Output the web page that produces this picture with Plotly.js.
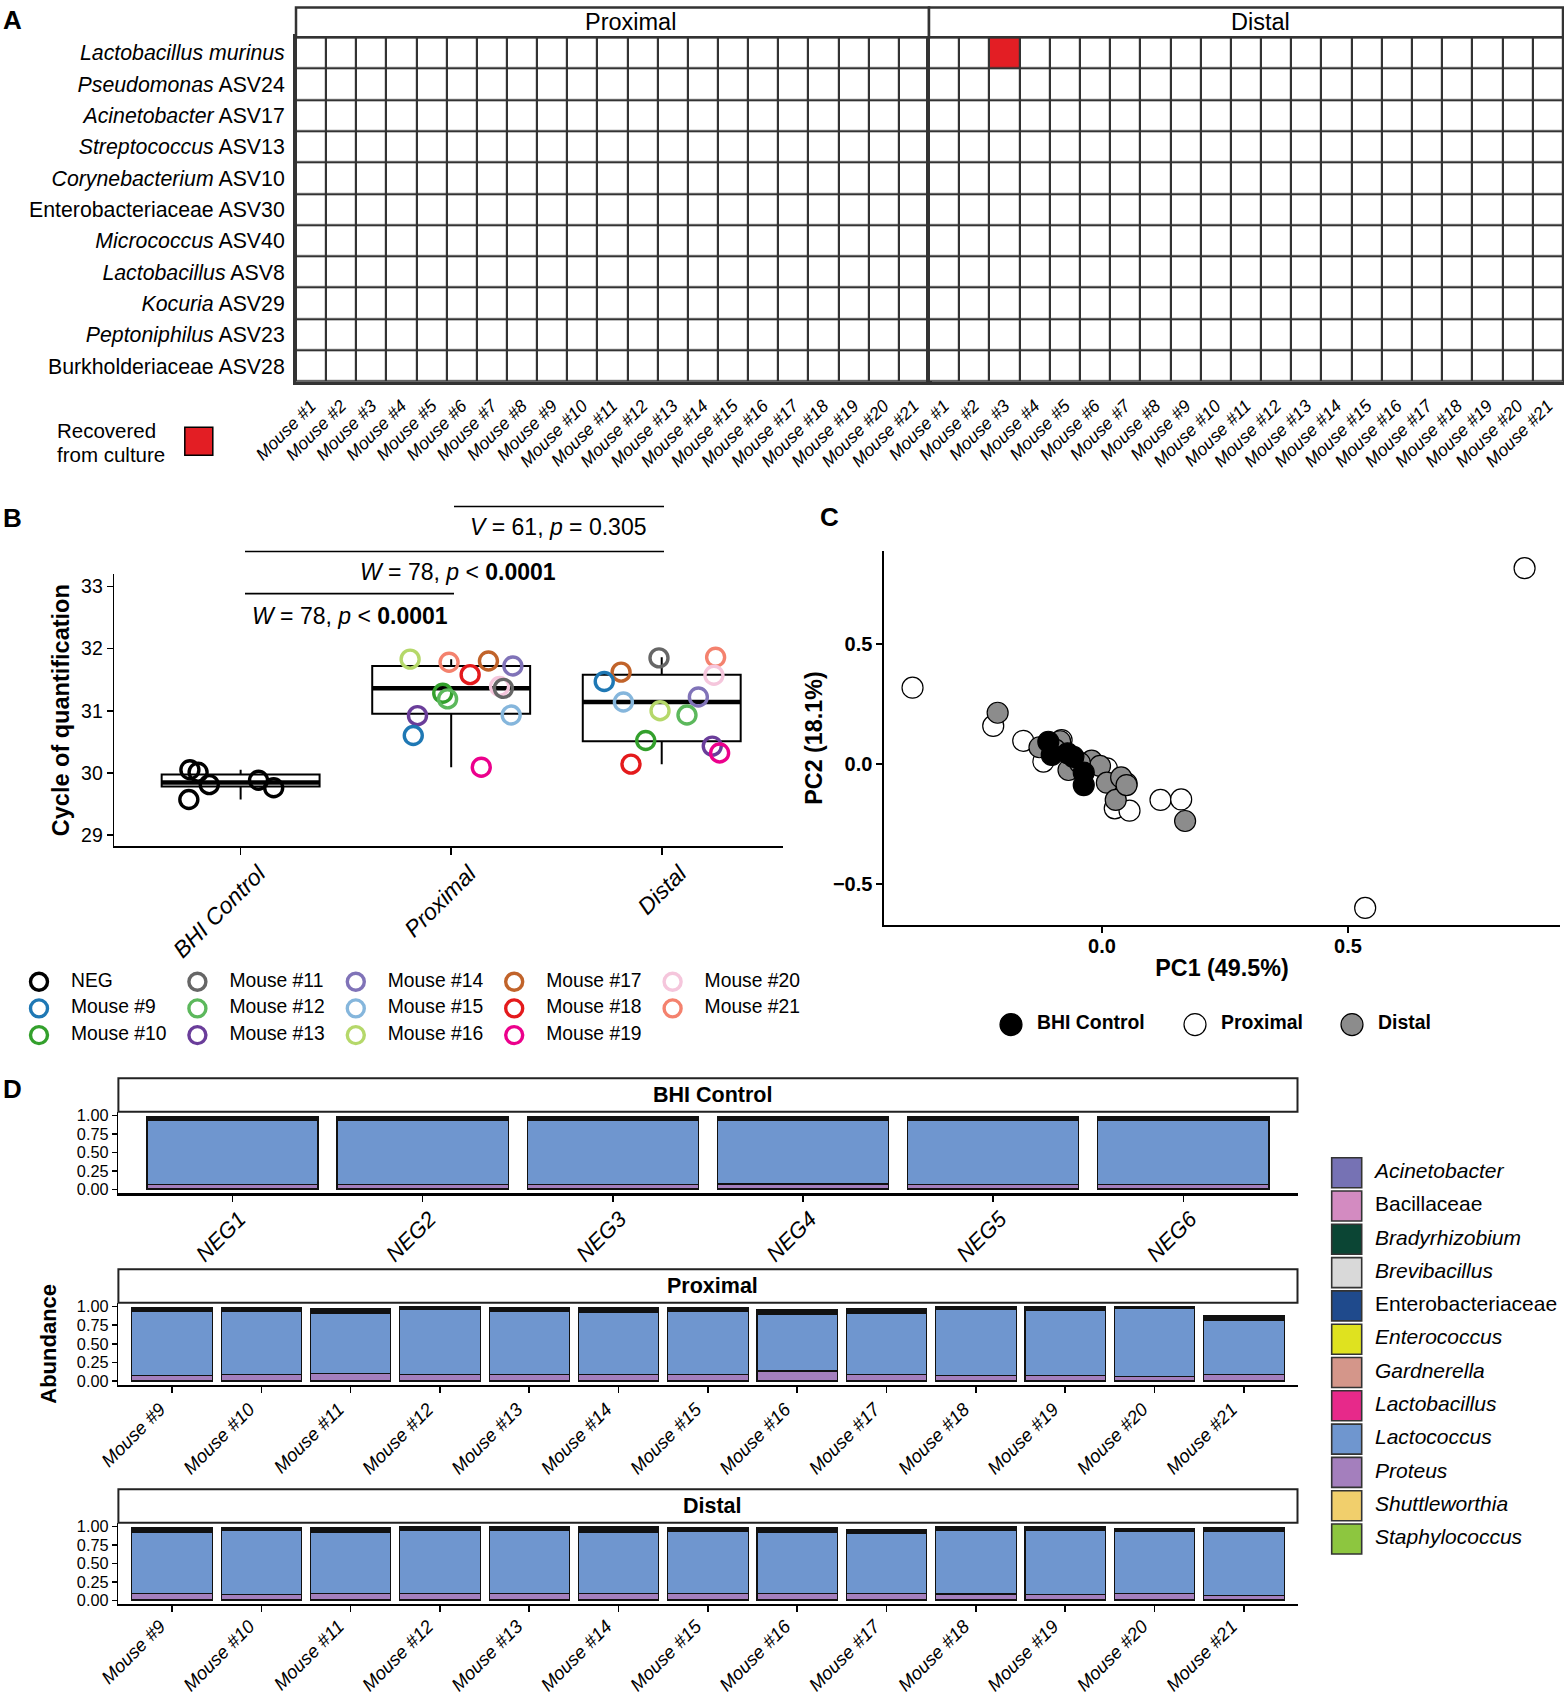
<!DOCTYPE html>
<html><head><meta charset="utf-8">
<script src="https://cdn.plot.ly/plotly-3.0.1.min.js"></script>
<style>html,body{margin:0;padding:0;background:#fff}#chart{width:1564px;height:1700px}</style>
</head><body><div id="chart"></div>
<script>
const W = 1564, H = 1700;
const FONT = 'Liberation Sans, Arial, Helvetica, sans-serif';

// ---------------- Panel A data ----------------
const taxaA = ['Lactobacillus murinus','Pseudomonas ASV24','Acinetobacter ASV17','Streptococcus ASV13','Corynebacterium ASV10','Enterobacteriaceae ASV30','Micrococcus ASV40','Lactobacillus ASV8','Kocuria ASV29','Peptoniphilus ASV23','Burkholderiaceae ASV28'];
const taxaALabels = ['<i>Lactobacillus murinus</i>','<i>Pseudomonas</i> ASV24','<i>Acinetobacter</i> ASV17','<i>Streptococcus</i> ASV13','<i>Corynebacterium</i> ASV10','Enterobacteriaceae ASV30','<i>Micrococcus</i> ASV40','<i>Lactobacillus</i> ASV8','<i>Kocuria</i> ASV29','<i>Peptoniphilus</i> ASV23','Burkholderiaceae ASV28'];
const miceA = ['Mouse #1','Mouse #2','Mouse #3','Mouse #4','Mouse #5','Mouse #6','Mouse #7','Mouse #8','Mouse #9','Mouse #10','Mouse #11','Mouse #12','Mouse #13','Mouse #14','Mouse #15','Mouse #16','Mouse #17','Mouse #18','Mouse #19','Mouse #20','Mouse #21'];
const sitesA = ['Proximal','Distal'];
const recoveredSite = ['Distal'];
const recoveredTaxon = ['Lactobacillus murinus'];
const recoveredMouse = ['Mouse #3'];

// ---------------- Panel B data ----------------
const groupsB = ['BHI Control','Proximal','Distal'];
const bhiCq  = [30.05, 30.01, 29.81, 29.57, 29.88, 29.76];
const bhiJit = [-0.241, -0.202, -0.149, -0.246, 0.085, 0.157];
const proxMiceB = ['Mouse #16','Mouse #21','Mouse #17','Mouse #14','Mouse #18','Mouse #20','Mouse #11','Mouse #10','Mouse #12','Mouse #13','Mouse #15','Mouse #9','Mouse #19'];
const proxCq  = [31.83, 31.78, 31.80, 31.72, 31.58, 31.39, 31.36, 31.28, 31.19, 30.92, 30.93, 30.60, 30.09];
const proxJit = [-0.195, -0.010, 0.177, 0.293, 0.090, 0.230, 0.248, -0.040, -0.017, -0.160, 0.285, -0.180, 0.143];
const distMiceB = ['Mouse #11','Mouse #21','Mouse #20','Mouse #17','Mouse #9','Mouse #15','Mouse #14','Mouse #16','Mouse #12','Mouse #10','Mouse #13','Mouse #19','Mouse #18'];
const distCq  = [31.85, 31.86, 31.57, 31.62, 31.47, 31.14, 31.22, 31.00, 30.93, 30.52, 30.43, 30.32, 30.14];
const distJit = [-0.013, 0.256, 0.248, -0.193, -0.273, -0.182, 0.174, -0.008, 0.120, -0.076, 0.240, 0.275, -0.146];
const boxQ1  = [29.78, 30.95, 30.51];
const boxMed = [29.845, 31.36, 31.14];
const boxQ3  = [29.975, 31.72, 31.58];
const boxLo  = [29.57, 30.09, 30.14];
const boxHi  = [30.05, 31.83, 31.86];
const legendBLabels = ['NEG','Mouse #9','Mouse #10','Mouse #11','Mouse #12','Mouse #13','Mouse #14','Mouse #15','Mouse #16','Mouse #17','Mouse #18','Mouse #19','Mouse #20','Mouse #21'];
const legendBColors = ['#000000','#1f78b4','#33a02c','#666666','#5cb85c','#6a3d9a','#8073b8','#85b6dc','#b5d86a','#c1632a','#e41a1c','#ec008c','#f5c6dc','#f4826e'];
const statLabels = ['<i>V</i> = 61, <i>p</i> = 0.305','<i>W</i> = 78, <i>p</i> &lt; <b>0.0001</b>','<i>W</i> = 78, <i>p</i> &lt; <b>0.0001</b>'];

// ---------------- Panel C data ----------------
const groupsC = ['BHI Control','Proximal','Distal'];
const colorsC = ['#000000','#ffffff','#8c8c8c'];
const bhiPC1 = [-0.109, -0.102, -0.070, -0.058, -0.037, -0.037];
const bhiPC2 = [0.093, 0.038, 0.045, 0.030, -0.036, -0.088];
const proxPC1 = [0.859, -0.385, 0.535, -0.221, -0.160, -0.119, 0.010, 0.050, 0.026, 0.056, 0.119, 0.161, -0.082];
const proxPC2 = [0.818, 0.319, -0.601, 0.159, 0.097, 0.010, -0.018, -0.081, -0.185, -0.195, -0.150, -0.148, 0.100];
const distPC1 = [-0.212, -0.127, -0.021, -0.004, -0.068, 0.010, 0.039, 0.028, 0.169, -0.085, -0.045, 0.050, -0.095];
const distPC2 = [0.214, 0.070, 0.014, -0.008, -0.025, -0.078, -0.056, -0.150, -0.238, 0.095, 0.005, -0.088, 0.060];

// ---------------- Panel D data ----------------
const taxaD = ['Acinetobacter','Bacillaceae','Bradyrhizobium','Brevibacillus','Enterobacteriaceae','Enterococcus','Gardnerella','Lactobacillus','Lactococcus','Proteus','Shuttleworthia','Staphylococcus'];
const taxaDLabels = ['<i>Acinetobacter</i>','Bacillaceae','<i>Bradyrhizobium</i>','<i>Brevibacillus</i>','Enterobacteriaceae','<i>Enterococcus</i>','<i>Gardnerella</i>','<i>Lactobacillus</i>','<i>Lactococcus</i>','<i>Proteus</i>','<i>Shuttleworthia</i>','<i>Staphylococcus</i>'];
const colorsD = ['#7672b4','#d38bc1','#0b4534','#d9d9d9','#1f4a8c','#dfe21f','#d4968a','#e7298a','#6f96cf','#a47fbd','#f1cf6c','#8dc63f'];
const facetsD = ['BHI Control','Proximal','Distal'];
const samplesBHI = ['NEG1','NEG2','NEG3','NEG4','NEG5','NEG6'];
const samplesMice = ['Mouse #9','Mouse #10','Mouse #11','Mouse #12','Mouse #13','Mouse #14','Mouse #15','Mouse #16','Mouse #17','Mouse #18','Mouse #19','Mouse #20','Mouse #21'];
// rows follow taxaD order, columns follow samples
const abundBHI = [
  [.008,.007,.008,.008,.008,.007],
  [.006,.006,.006,.006,.006,.006],
  [.007,.007,.007,.007,.007,.007],
  [.006,.006,.006,.006,.006,.006],
  [.008,.008,.007,.008,.008,.008],
  [.007,.007,.007,.007,.007,.007],
  [.006,.006,.006,.006,.006,.006],
  [.007,.007,.008,.007,.008,.008],
  [.858,.860,.859,.856,.862,.858],
  [.062,.061,.062,.063,.061,.062],
  [.005,.005,.005,.005,.005,.005],
  [.006,.006,.006,.006,.006,.006]
];
const abundProx = [
  [.008,.008,.009,.005,.007,.009,.008,.009,.009,.006,.007,.004,.009],
  [.006,.006,.007,.004,.006,.008,.006,.008,.007,.005,.006,.003,.008],
  [.007,.007,.008,.005,.007,.008,.007,.008,.008,.006,.007,.004,.008],
  [.006,.006,.007,.004,.006,.008,.006,.008,.007,.005,.006,.003,.008],
  [.009,.009,.009,.006,.008,.010,.009,.010,.009,.006,.008,.005,.010],
  [.007,.007,.008,.005,.007,.008,.007,.008,.008,.006,.007,.004,.008],
  [.006,.006,.006,.005,.006,.007,.006,.007,.006,.005,.006,.003,.007],
  [.009,.009,.009,.006,.007,.010,.009,.010,.009,.006,.007,.004,.010],
  [.851,.837,.806,.860,.842,.823,.837,.751,.815,.878,.865,.911,.720],
  [.070,.084,.093,.084,.079,.084,.084,.125,.079,.066,.070,.048,.079],
  [.005,.005,.005,.005,.005,.005,.005,.005,.005,.005,.005,.005,.005],
  [.006,.006,.006,.006,.006,.006,.006,.006,.006,.006,.006,.006,.006]
];
const abundDist = [
  [.009,.007,.008,.007,.007,.010,.008,.008,.008,.007,.007,.006,.008],
  [.007,.006,.006,.006,.006,.008,.007,.007,.007,.006,.006,.005,.007],
  [.008,.006,.007,.007,.006,.009,.007,.008,.007,.007,.007,.006,.007],
  [.007,.005,.007,.006,.005,.008,.007,.007,.007,.006,.006,.005,.007],
  [.009,.007,.009,.008,.007,.010,.009,.009,.009,.008,.008,.007,.009],
  [.008,.006,.007,.007,.006,.009,.007,.008,.007,.007,.007,.006,.007],
  [.006,.006,.006,.006,.006,.008,.006,.006,.006,.006,.006,.005,.006],
  [.009,.007,.009,.008,.007,.010,.009,.009,.009,.008,.008,.006,.009],
  [.832,.863,.827,.854,.859,.832,.839,.827,.809,.859,.868,.836,.866],
  [.080,.066,.080,.080,.080,.080,.080,.075,.080,.075,.066,.080,.053],
  [.005,.005,.005,.005,.005,.005,.005,.008,.005,.005,.005,.005,.005],
  [.006,.006,.006,.006,.006,.006,.006,.008,.006,.006,.006,.006,.006]
];

// ---------------- helpers ----------------
const px = v => v / W;
const py = v => 1 - v / H;
const traces = [];
const shapes = [];
const annotations = [];
function ann(x, y, text, size, opts) {
  annotations.push(Object.assign({xref:'paper', yref:'paper', x:px(x), y:py(y), text:text, showarrow:false,
    xanchor:'center', yanchor:'middle', font:{family:FONT, size:size, color:'#000'}}, opts || {}));
}
function rect(x0, y0, x1, y1, opts) {
  shapes.push(Object.assign({type:'rect', xref:'paper', yref:'paper', x0:px(x0), x1:px(x1), y0:py(y0), y1:py(y1),
    line:{color:'#333', width:2.5}, fillcolor:'#fff', layer:'above'}, opts || {}));
}
function hline(x0, x1, y, opts) {
  shapes.push(Object.assign({type:'line', xref:'paper', yref:'paper', x0:px(x0), x1:px(x1), y0:py(y), y1:py(y),
    line:{color:'#000', width:1.6}}, opts || {}));
}

// ---------------- Panel A ----------------
sitesA.forEach((site, si) => {
  const z = taxaA.map(t => miceA.map(m => {
    for (let k = 0; k < recoveredSite.length; k++) {
      if (recoveredSite[k] === site && recoveredTaxon[k] === t && recoveredMouse[k] === m) return 1;
    }
    return 0;
  }));
  traces.push({type:'heatmap', x:miceA, y:taxaA, z:z, zmin:0, zmax:1,
    colorscale:[[0,'#ffffff'],[1,'#e31e24']], showscale:false, xgap:2.2, ygap:2.2,
    xaxis: si === 0 ? 'x' : 'x2', yaxis:'y', hoverinfo:'skip'});
});
// dark background seen through the cell gaps
shapes.push({type:'rect', xref:'paper', yref:'paper', x0:px(296), x1:px(1563), y0:py(381.7), y1:py(37.3),
  fillcolor:'#333333', line:{width:0}, layer:'below'});
rect(296, 7.6, 929, 37.3);
rect(929, 7.6, 1563, 37.3);
ann(630.7, 22.5, sitesA[0], 23.5);
ann(1260.5, 22.5, sitesA[1], 23.5);
ann(55, 430, 'Recovered', 20.5, {xanchor:'left'});
ann(55, 455, 'from culture', 20.5, {xanchor:'left'});

// ---------------- Panel B ----------------
traces.push({type:'box', x:[0,1,2], q1:boxQ1, median:boxMed, q3:boxQ3, lowerfence:boxLo, upperfence:boxHi,
  width:0.75, whiskerwidth:0, fillcolor:'#ffffff', line:{color:'#000', width:2}, boxpoints:false,
  xaxis:'x3', yaxis:'y3', hoverinfo:'skip'});
const medX = [], medY = [];
boxMed.forEach((m, i) => { medX.push(i - 0.375, i + 0.375, null); medY.push(m, m, null); });
traces.push({type:'scatter', mode:'lines', x:medX, y:medY, line:{color:'#000', width:4.5}, xaxis:'x3', yaxis:'y3', hoverinfo:'skip'});
const colorOf = lab => legendBColors[legendBLabels.indexOf(lab)];
const ptsB = [
  {g:0, cq:bhiCq, jit:bhiJit, mice:bhiCq.map(() => 'NEG')},
  {g:1, cq:proxCq, jit:proxJit, mice:proxMiceB},
  {g:2, cq:distCq, jit:distJit, mice:distMiceB}
];
ptsB.forEach(p => {
  traces.push({type:'scatter', mode:'markers', x:p.jit.map(j => p.g + j), y:p.cq,
    marker:{symbol:'circle-open', size:18, color:p.mice.map(colorOf), line:{width:3.4, color:p.mice.map(colorOf)}},
    xaxis:'x3', yaxis:'y3', cliponaxis:false, hoverinfo:'skip'});
});
hline(454, 664, 506.5);
hline(245, 664, 551.5);
hline(245, 454, 593.6);
ann(558, 527, statLabels[0], 23);
ann(458, 571.5, statLabels[1], 23);
ann(350, 616, statLabels[2], 23);

// ---------------- Panel C ----------------
[[proxPC1, proxPC2, 1], [distPC1, distPC2, 2], [bhiPC1, bhiPC2, 0]].forEach(s => {
  traces.push({type:'scatter', mode:'markers', x:s[0], y:s[1],
    marker:{size:21, color:colorsC[s[2]], line:{color:'#000', width:1.2}},
    xaxis:'x4', yaxis:'y4', cliponaxis:false, hoverinfo:'skip'});
});

// ---------------- Panel D ----------------
const facetData = [[samplesBHI, abundBHI, 'x5', 'y5'], [samplesMice, abundProx, 'x6', 'y6'], [samplesMice, abundDist, 'x7', 'y7']];
facetData.forEach(f => {
  for (let t = taxaD.length - 1; t >= 0; t--) {
    traces.push({type:'bar', x:f[0], y:f[1][t], width:0.9, marker:{color:colorsD[t], line:{color:'#111', width:1.2}},
      xaxis:f[2], yaxis:f[3], hoverinfo:'skip'});
  }
});
const stripD = [[1078.3, 1111.7], [1269.3, 1302.7], [1489.3, 1522.7]];
stripD.forEach((s, i) => {
  rect(118.4, s[0], 1297.5, s[1], {line:{color:'#222', width:2}});
  ann(712.7, (s[0] + s[1]) / 2, '<b>' + facetsD[i] + '</b>', 21.5);
});

// ---------------- manual legends (overlay axis in page pixels) ----------------
const legBX = legendBLabels.map((l, i) => 39 + Math.floor(i / 3) * 158.4);
const legBY = legendBLabels.map((l, i) => 981.7 + (i % 3) * 26.7);
traces.push({type:'scatter', mode:'markers', x:legBX, y:legBY,
  marker:{symbol:'circle-open', size:17, color:legendBColors, line:{width:3.4, color:legendBColors}},
  xaxis:'x8', yaxis:'y8', cliponaxis:false, hoverinfo:'skip'});
traces.push({type:'scatter', mode:'text', x:legBX.map(v => v + 32), y:legBY, text:legendBLabels,
  textposition:'middle right', textfont:{family:FONT, size:19.3, color:'#000'},
  xaxis:'x8', yaxis:'y8', cliponaxis:false, hoverinfo:'skip'});

const legCX = [1011, 1195, 1352];
traces.push({type:'scatter', mode:'markers', x:legCX, y:legCX.map(() => 1024.6),
  marker:{size:22, color:colorsC, line:{color:'#000', width:1.2}}, xaxis:'x8', yaxis:'y8', cliponaxis:false, hoverinfo:'skip'});
traces.push({type:'scatter', mode:'text', x:legCX.map(v => v + 26), y:legCX.map(() => 1024.6), text:groupsC.map(g => '<b>' + g + '</b>'),
  textposition:'middle right', textfont:{family:FONT, size:19.4, color:'#000'}, xaxis:'x8', yaxis:'y8', cliponaxis:false, hoverinfo:'skip'});

const legDY = taxaD.map((t, i) => 1172.7 + i * 33.3);
traces.push({type:'scatter', mode:'markers', x:taxaD.map(() => 1346.7), y:legDY,
  marker:{symbol:'square', size:30, color:colorsD, line:{color:'#333', width:1.6}}, xaxis:'x8', yaxis:'y8', cliponaxis:false, hoverinfo:'skip'});
traces.push({type:'scatter', mode:'text', x:taxaD.map(() => 1375), y:legDY, text:taxaDLabels,
  textposition:'middle right', textfont:{family:FONT, size:21, color:'#000'}, xaxis:'x8', yaxis:'y8', cliponaxis:false, hoverinfo:'skip'});

// recovered-from-culture key
traces.push({type:'scatter', mode:'markers', x:[198.8], y:[441.3],
  marker:{symbol:'square', size:28, color:'#e31e24', line:{color:'#000', width:1.5}}, xaxis:'x8', yaxis:'y8', cliponaxis:false, hoverinfo:'skip'});

// panel letters
ann(12, 19.5, '<b>A</b>', 26);
ann(12, 518, '<b>B</b>', 26);
ann(829, 517, '<b>C</b>', 26);
ann(12, 1089, '<b>D</b>', 26);

// ---------------- axes ----------------
const baseFont = {family:FONT, color:'#000'};
const axA = {type:'category', showline:true, mirror:true, linecolor:'#333', linewidth:3, ticks:'', showgrid:false, zeroline:false,
  tickangle:-45, tickfont:Object.assign({size:17.5, style:'italic'}, baseFont), ticklabelstandoff:4, fixedrange:true};
const lineAx = {showline:true, linecolor:'#000', linewidth:1.6, ticks:'outside', tickcolor:'#000', tickwidth:1.6, showgrid:false, zeroline:false, fixedrange:true};

const xD = (dom, n, anchor, fsize, shift, standoff) => Object.assign({}, lineAx, {domain:dom, anchor:anchor, type:'category', range:[-0.6, n - 0.4],
  tickangle:-45, ticklen:6, linewidth:2.2, ticklabelshift:shift, ticklabelstandoff:standoff,
  tickfont:Object.assign({size:fsize, style:'italic'}, baseFont)});
const yD = (dom, anchor) => Object.assign({}, lineAx, {domain:dom, anchor:anchor, range:[-0.05, 1.05],
  tickvals:[0, 0.25, 0.5, 0.75, 1], ticktext:['0.00','0.25','0.50','0.75','1.00'], ticklen:5, tickfont:Object.assign({size:16.3}, baseFont)});

const layout = {
  width:W, height:H, margin:{l:0, r:0, t:0, b:0}, paper_bgcolor:'#ffffff', plot_bgcolor:'rgba(0,0,0,0)',
  showlegend:false, barmode:'stack', font:{family:FONT, color:'#000'},
  xaxis: Object.assign({}, axA, {domain:[px(296), px(929)], anchor:'y'}),
  xaxis2: Object.assign({}, axA, {domain:[px(929), px(1563)], anchor:'y'}),
  yaxis: {domain:[py(381.7), py(37.3)], anchor:'x', type:'category', autorange:'reversed', showline:true, mirror:'all',
    linecolor:'#333', linewidth:3, ticks:'', showgrid:false, zeroline:false, tickvals:taxaA, ticktext:taxaALabels,
    tickfont:Object.assign({size:21.3}, baseFont), ticklabelstandoff:4, fixedrange:true},

  xaxis3: Object.assign({}, lineAx, {domain:[px(114.3), px(783)], anchor:'y3', range:[-0.6, 2.576], tickvals:[0,1,2], ticktext:groupsB,
    tickangle:-45, ticklen:7, ticklabelshift:18, ticklabelstandoff:-4, tickfont:Object.assign({size:23, style:'italic'}, baseFont)}),
  yaxis3: Object.assign({}, lineAx, {domain:[py(846.4), py(574)], anchor:'x3', range:[28.816, 33.2], tickvals:[29,30,31,32,33],
    ticklen:6, tickfont:Object.assign({size:19.5}, baseFont),
    title:{text:'Cycle of quantification', font:Object.assign({size:23.5, weight:'bold'}, baseFont), standoff:5}}),

  xaxis4: Object.assign({}, lineAx, {domain:[px(884), px(1560)], anchor:'y4', range:[-0.443, 0.931], tickvals:[0, 0.5], ticktext:['0.0','0.5'],
    ticklen:6, ticklabelstandoff:-4, tickfont:Object.assign({size:20, weight:'bold'}, baseFont),
    title:{text:'PC1 (49.5%)', font:Object.assign({size:23.3, weight:'bold'}, baseFont), standoff:4}}),
  yaxis4: Object.assign({}, lineAx, {domain:[py(925), py(551)], anchor:'x4', range:[-0.6725, 0.8897], tickvals:[-0.5, 0, 0.5], ticktext:['\u22120.5','0.0','0.5'],
    ticklen:6, tickfont:Object.assign({size:20, weight:'bold'}, baseFont),
    title:{text:'PC2 (18.1%)', font:Object.assign({size:23.3, weight:'bold'}, baseFont), standoff:4}}),

  xaxis5: xD([px(118.4), px(1297.5)], samplesBHI.length, 'y5', 22, 7, -4),
  yaxis5: yD([py(1193.3), py(1111.7)], 'x5'),
  xaxis6: xD([px(118.4), px(1297.5)], samplesMice.length, 'y6', 18.5, -12, -2),
  yaxis6: Object.assign(yD([py(1385), py(1302.7)], 'x6'), {title:{text:'Abundance', font:Object.assign({size:22, weight:'bold'}, baseFont), standoff:14}}),
  xaxis7: xD([px(118.4), px(1297.5)], samplesMice.length, 'y7', 18.5, -12, -4),
  yaxis7: yD([py(1604), py(1522.7)], 'x7'),

  xaxis8: {domain:[0,1], range:[0, W], visible:false, fixedrange:true, anchor:'y8'},
  yaxis8: {domain:[0,1], range:[H, 0], visible:false, fixedrange:true, anchor:'x8'},
  shapes: shapes, annotations: annotations
};

Plotly.newPlot('chart', traces, layout, {staticPlot:true, displayModeBar:false});
</script>
</body></html>
